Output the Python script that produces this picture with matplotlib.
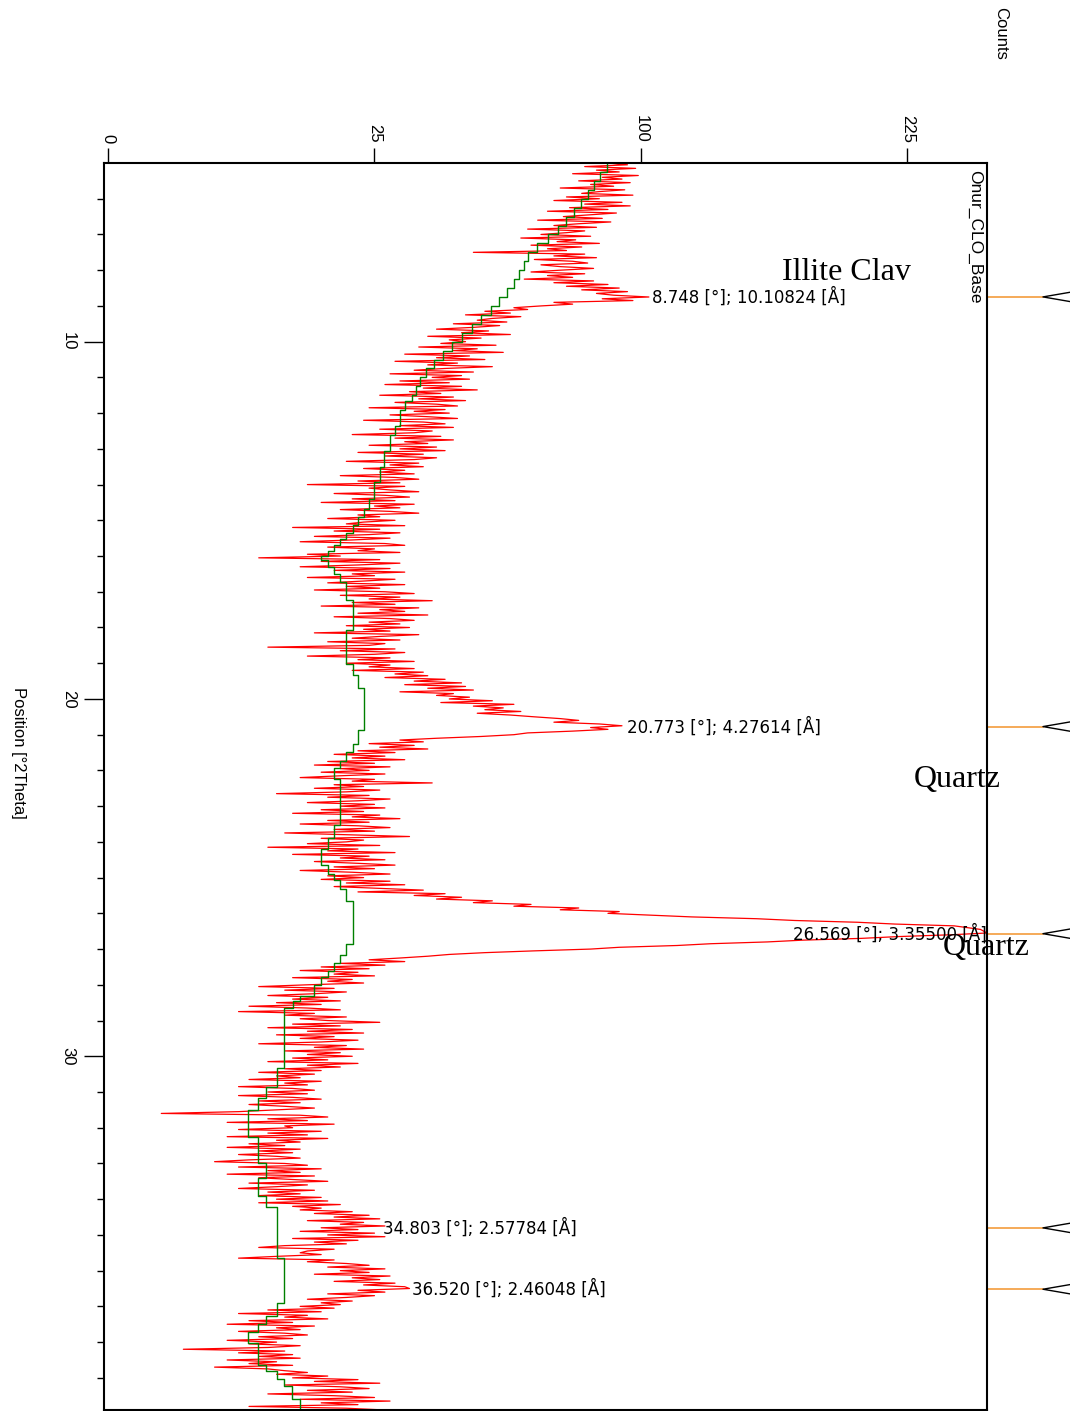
import numpy as np
import matplotlib.pyplot as plt
from matplotlib.transforms import blended_transform_factory

plt.rcParams['font.family'] = ['Liberation Sans', 'DejaVu Sans']

# scan: start angle and step [°2Theta]
start, step = 5.0, 0.05
counts = [
    88, 95, 80, 98, 84, 92, 76, 99, 86, 93, 78, 96, 82, 90, 72, 94, 85, 79, 97, 74,   # 5
    85, 70, 93, 80, 96, 75, 88, 68, 91, 82, 73, 86, 65, 89, 78, 70, 84, 62, 80, 74,   # 6
    66, 82, 60, 77, 71, 85, 63, 79, 68, 74, 47, 80, 70, 84, 64, 76, 81, 66, 72, 83,   # 7
    72, 63, 80, 68, 76, 61, 83, 70, 88, 74, 92, 79, 95, 84, 90, 103, 86, 97, 70, 76,  # 8
    66, 58, 62, 50, 57, 45, 60, 52, 48, 56, 42, 54, 47, 38, 51, 44, 57, 36, 49, 41,   # 9
    45, 39, 53, 34, 48, 42, 55, 31, 46, 38, 50, 29, 43, 36, 52, 40, 33, 47, 28, 44,   # 10
    37, 46, 30, 41, 27, 44, 35, 48, 32, 39, 26, 42, 34, 45, 29, 38, 43, 24, 40, 33,   # 11
    41, 28, 36, 43, 23, 35, 40, 30, 42, 26, 37, 33, 21, 39, 29, 42, 31, 36, 24, 38,   # 12
    30, 40, 22, 35, 27, 38, 33, 20, 34, 28, 35, 23, 31, 26, 33, 19, 29, 34, 22, 30,   # 13
    14, 31, 24, 28, 34, 18, 27, 32, 21, 29, 16, 33, 25, 30, 19, 28, 34, 22, 26, 17,   # 14
    29, 23, 20, 31, 12, 26, 18, 30, 24, 15, 28, 21, 13, 27, 31, 17, 25, 22, 30, 14,   # 15
    19, 8, 26, 16, 30, 22, 13, 28, 18, 31, 21, 25, 14, 29, 23, 17, 31, 20, 26, 15,    # 16
    27, 33, 19, 30, 24, 37, 21, 29, 16, 34, 26, 31, 22, 36, 18, 28, 33, 24, 30, 20,   # 17
    32, 23, 28, 15, 34, 26, 21, 30, 17, 27, 24, 9, 29, 19, 31, 25, 14, 28, 22, 33,    # 18
    20, 28, 24, 33, 21, 35, 29, 36, 27, 40, 33, 44, 31, 45, 36, 47, 30, 42, 38, 46,   # 19
    41, 52, 39, 58, 47, 55, 50, 60, 48, 57, 64, 72, 78, 70, 85, 93, 82, 88, 76, 62,   # 20
    58, 49, 38, 30, 35, 24, 33, 26, 36, 22, 29, 18, 27, 21, 31, 17, 25, 15, 28, 19,   # 21
    24, 16, 27, 19, 13, 25, 21, 37, 18, 23, 15, 26, 20, 10, 24, 17, 28, 22, 14, 25,   # 22
    19, 27, 16, 23, 12, 26, 21, 30, 17, 24, 13, 22, 28, 18, 25, 11, 20, 32, 16, 23,   # 23
    20, 14, 26, 9, 22, 17, 29, 12, 24, 19, 27, 15, 22, 29, 18, 25, 13, 21, 28, 17,    # 24
    23, 16, 28, 20, 31, 18, 26, 35, 22, 40, 33, 44, 38, 52, 47, 63, 58, 78, 72, 92,   # 25
    88, 103, 120, 148, 166, 198, 218, 252, 260, 268,
    270, 272, 250, 220, 200, 170, 153, 128, 114, 92,                                  # 26
    82, 64, 50, 41, 36, 30, 24, 31, 19, 27, 16, 24, 13, 22, 18, 25, 12, 21, 17, 23,   # 27
    14, 8, 18, 11, 20, 15, 9, 17, 12, 19, 10, 16, 7, 14, 19, 6, 15, 11, 20, 13,       # 28
    17, 26, 12, 19, 9, 21, 14, 23, 10, 18, 13, 22, 16, 8, 20, 15, 23, 11, 19, 14,     # 29
    21, 12, 17, 9, 22, 14, 19, 11, 16, 8, 15, 10, 13, 7, 16, 11, 14, 6, 12, 15,       # 30
    9, 14, 6, 12, 16, 8, 13, 7, 11, 15, 10, 6, 1, 13, 17, 9, 14, 5, 18, 11,           # 31
    12, 6, 16, 9, 14, 5, 17, 10, 13, 7, 11, 5, 13, 8, 12, 6, 10, 13, 7, 4,            # 32
    11, 14, 6, 16, 9, 13, 5, 15, 8, 12, 17, 7, 14, 10, 6, 15, 9, 13, 8, 16,           # 33
    10, 17, 8, 19, 12, 16, 13, 21, 15, 24, 18, 26, 14, 23, 19, 27, 16, 22, 13, 25,    # 34
    17, 27, 12, 22, 15, 20, 11, 8, 18, 14, 13, 16, 10, 6, 18, 14, 20, 24, 17, 27,     # 35
    19, 24, 15, 28, 21, 26, 18, 29, 23, 31, 32, 22, 27, 17, 25, 20, 14, 21, 16, 19,   # 36
    13, 18, 9, 16, 6, 14, 11, 17, 7, 12, 5, 15, 10, 13, 6, 11, 14, 8, 12, 5,          # 37
    10, 7, 13, 9, 2, 11, 6, 12, 8, 13, 5, 10, 7, 12, 4, 9, 11, 14, 10, 17,            # 38
    12, 22, 15, 26, 11, 19, 24, 14, 21, 9, 18, 25, 13, 28, 16, 22, 7, 20, 27,         # 39
]
pos = start + step * np.arange(len(counts))

# background (green step line)
bg_pos = [5.0, 5.25, 5.5, 5.75, 6.0, 6.25, 6.5, 6.75, 7.0, 7.25, 7.5, 7.75, 8.0, 8.25,
          8.5, 8.75, 9.0, 9.25, 9.5, 9.75, 10.0, 10.25, 10.5, 10.75, 11.0, 11.25, 11.5,
          11.65, 11.9, 12.35, 12.6, 13.05, 13.5, 13.92, 14.39, 14.68, 14.91, 15.12, 15.35,
          15.53, 15.68, 15.86, 15.99, 16.12, 16.31, 16.51, 16.73, 17.22, 18.06, 19.02,
          19.34, 19.70, 20.86, 21.25, 21.48, 21.73, 21.92, 22.24, 23.53, 23.88, 24.2,
          24.64, 24.9, 25.08, 25.31, 25.66, 26.85, 27.16, 27.4, 27.6, 27.79, 28.0, 28.3,
          28.45, 28.66, 30.33, 30.86, 31.18, 31.5, 32.25, 33.0, 33.41, 33.92, 34.23,
          35.64, 36.91, 37.27, 37.49, 37.73, 38.03, 38.63, 38.8, 39.02, 39.23, 39.6, 39.9]
bg_counts = [87.7, 85.2, 83.1, 81.1, 78.8, 76.4, 73.8, 71.3, 68.1, 64.8, 62.1, 60.9, 59.5,
             58.0, 56.0, 53.8, 51.6, 49.0, 46.6, 44.1, 41.7, 39.5, 37.4, 35.6, 34.3, 33.4,
             32.5, 31.0, 30.0, 28.9, 28.0, 26.9, 26.1, 25.0, 23.9, 23.1, 22.0, 21.1, 19.9,
             18.9, 18.0, 17.0, 16.0, 17.0, 18.0, 18.9, 19.9, 21.1, 19.9, 21.1, 22.0, 23.1,
             22.0, 21.1, 19.9, 18.9, 18.0, 18.9, 18.0, 17.0, 16.0, 17.0, 18.0, 18.9, 19.9,
             21.1, 19.9, 18.9, 18.0, 17.0, 16.0, 15.0, 13.0, 12.0, 10.9, 10.0, 8.8, 7.9,
             6.9, 7.9, 8.8, 7.9, 8.8, 10.0, 10.9, 10.0, 8.8, 7.9, 6.9, 7.9, 8.8, 10.0, 10.9,
             11.9, 13.0, 13.0]

peaks = [8.748, 20.773, 26.569, 34.803, 36.520]
d_spacing = [10.10824, 4.27614, 3.35500, 2.57784, 2.46048]
label_at = [104, 95, 165, 26.6, 32.5]

phase_names = ['Illite Clav', 'Quartz', 'Quartz']
phase_px = [(782, 273), (914, 779), (943, 947)]

W, H = 1070, 1411
fig = plt.figure(figsize=(W / 100, H / 100), dpi=100)
ax = fig.add_axes([104 / W, 1 - 1410 / H, 883 / W, 1247 / H])


def fwd(x):
    return np.sign(x) * np.sqrt(np.abs(x))


def inv(x):
    return np.sign(x) * x ** 2


ax.set_xscale('function', functions=(fwd, inv))

ax.plot(counts, pos, color='#ff0000', lw=0.9)
bg_y = np.repeat(bg_pos, 2)[1:]
bg_x = np.repeat(bg_counts, 2)[:-1]
ax.plot(bg_x, bg_y, color='#008000', lw=1)

ax.set_xlim(-0.0056, 272)
ax.set_ylim(39.9, 5.0)

ax.xaxis.set_ticks_position('top')
ax.set_xticks([0, 25, 100, 225])
ax.set_xticklabels(['0', '25', '100', '225'], rotation=270)
ax.tick_params(axis='x', length=10.8, width=1, pad=3.6, labelsize=12)
ax.set_yticks([10, 20, 30])
ax.set_yticks(np.arange(6, 40), minor=True)
ax.tick_params(axis='y', which='major', length=14.4, width=1, pad=6, labelsize=12,
               labelrotation=270)
ax.tick_params(axis='y', which='minor', length=5, width=1)
for t in ax.get_yticklabels():
    t.set_va('center')
for s in ax.spines.values():
    s.set_linewidth(1.5)

# peak markers outside the right edge
tr = blended_transform_factory(ax.transAxes, ax.transData)
for p in peaks:
    ax.plot([1.0, 1.0634], [p, p], color='#f39c3c', lw=1.2, transform=tr, clip_on=False)
    ax.plot([1.094, 1.0634, 1.094], [p - 0.13, p, p + 0.13], color='black', lw=1,
            transform=tr, clip_on=False)

for p, d, lx in zip(peaks, d_spacing, label_at):
    ax.text(lx, p, f'{p:.3f} [°]; {d:.5f} [Å]', fontsize=12, family='DejaVu Sans',
            ha='left', va='center')

for name, (px, py) in zip(phase_names, phase_px):
    fig.text(px / W, 1 - py / H, name, family='Liberation Serif', fontsize=23,
             ha='left', va='center')

fig.text(975 / W, 1 - 170 / H, 'Onur_CLO_Base', rotation=270, ha='center', va='top',
         fontsize=12.5)
fig.text(1001 / W, 1 - 7 / H, 'Counts', rotation=270, ha='center', va='top', fontsize=12)
fig.text(18 / W, 1 - 753 / H, 'Position [°2Theta]', rotation=270, ha='center',
         va='center', fontsize=12)

fig.savefig('out.png', dpi=100)
